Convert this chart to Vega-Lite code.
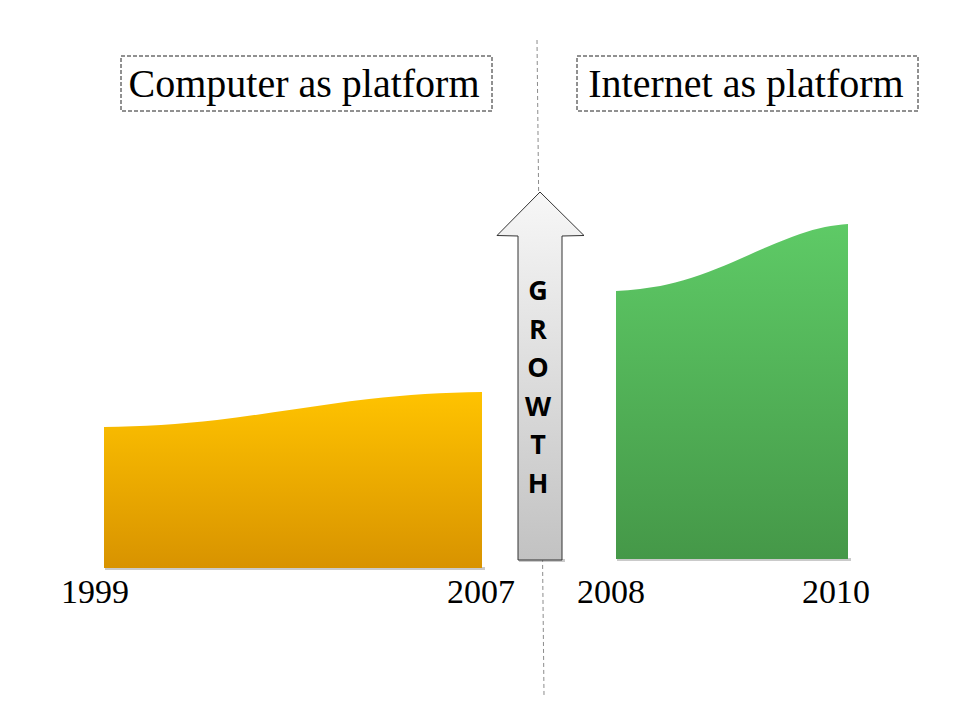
{
  "$schema": "https://vega.github.io/schema/vega-lite/v6.json",
  "width": 960,
  "height": 720,
  "autosize": {"type": "fit", "contains": "padding"},
  "padding": 0,
  "background": "white",
  "config": {"view": {"stroke": null}},
  "datasets": {
    "computer": [
      {"pos": 10.4, "level": 29.3},
      {"pos": 16.1, "level": 29.5},
      {"pos": 21.7, "level": 30.0},
      {"pos": 29.3, "level": 31.05},
      {"pos": 36.9, "level": 32.1},
      {"pos": 42.5, "level": 32.6},
      {"pos": 48.2, "level": 32.8}
    ],
    "internet": [
      {"pos": 61.6, "level": 42.9},
      {"pos": 64.0, "level": 43.1},
      {"pos": 66.7, "level": 43.55},
      {"pos": 70.0, "level": 44.5},
      {"pos": 73.3, "level": 45.8},
      {"pos": 76.7, "level": 47.3},
      {"pos": 80.0, "level": 48.6},
      {"pos": 82.5, "level": 49.3},
      {"pos": 84.8, "level": 49.6}
    ],
    "arrow": [
      {"level": 16.0, "left": 51.8, "right": 56.2},
      {"level": 48.4, "left": 51.8, "right": 56.2},
      {"level": 48.45, "left": 49.7, "right": 58.4},
      {"level": 52.8, "left": 54.0, "right": 54.0}
    ],
    "letters": [
      {"letter": "G", "pos": 53.8, "level": 42.8},
      {"letter": "R", "pos": 53.8, "level": 38.94},
      {"letter": "O", "pos": 53.8, "level": 35.08},
      {"letter": "W", "pos": 53.8, "level": 31.22},
      {"letter": "T", "pos": 53.8, "level": 27.36},
      {"letter": "H", "pos": 53.8, "level": 23.5}
    ],
    "years": [
      {"year": "1999", "pos": 9.5},
      {"year": "2007", "pos": 48.1},
      {"year": "2008", "pos": 61.1},
      {"year": "2010", "pos": 83.6}
    ],
    "boxes": [
      {"title": "Computer as platform", "x1": 12.1, "x2": 49.2, "mid": 30.4},
      {"title": "Internet as platform", "x1": 57.7, "x2": 91.8, "mid": 74.6}
    ],
    "shadows": [
      {"x1": 10.5, "x2": 48.5, "base": 15.15},
      {"x1": 61.7, "x2": 85.1, "base": 16.05},
      {"x1": 51.9, "x2": 56.5, "base": 15.95}
    ],
    "divider": [
      {"x1": 53.7, "y1": 68.0, "x2": 54.4, "y2": 2.5}
    ]
  },
  "layer": [
    {
      "data": {"name": "divider"},
      "mark": {"type": "rule", "color": "#8c8c8c", "strokeWidth": 1, "strokeDash": [4, 3]},
      "encoding": {
        "x": {"field": "x1", "type": "quantitative", "scale": {"domain": [0, 96], "nice": false, "zero": false}, "axis": null},
        "y": {"field": "y1", "type": "quantitative", "scale": {"domain": [0, 72], "nice": false, "zero": false}, "axis": null},
        "x2": {"field": "x2"},
        "y2": {"field": "y2"}
      }
    },
    {
      "data": {"name": "boxes"},
      "mark": {"type": "rect", "fill": "white", "stroke": "#222222", "strokeWidth": 1, "strokeDash": [4, 2]},
      "encoding": {
        "x": {"field": "x1", "type": "quantitative"},
        "x2": {"field": "x2"},
        "y": {"datum": 66.4, "type": "quantitative"},
        "y2": {"datum": 60.9}
      }
    },
    {
      "data": {"name": "boxes"},
      "mark": {"type": "text", "font": "Liberation Serif", "fontSize": 40, "color": "#000000", "align": "center", "baseline": "alphabetic"},
      "encoding": {
        "x": {"field": "mid", "type": "quantitative"},
        "y": {"datum": 62.3, "type": "quantitative"},
        "text": {"field": "title"}
      }
    },
    {
      "data": {"name": "shadows"},
      "mark": {"type": "rule", "color": "#8a8a8a", "opacity": 0.45, "strokeWidth": 3},
      "encoding": {
        "x": {"field": "x1", "type": "quantitative"},
        "x2": {"field": "x2"},
        "y": {"field": "base", "type": "quantitative"}
      }
    },
    {
      "data": {"name": "computer"},
      "mark": {
        "type": "area",
        "interpolate": "monotone",
        "fill": {
          "gradient": "linear", "x1": 0, "y1": 0, "x2": 0, "y2": 1,
          "stops": [{"offset": 0, "color": "#FFC300"}, {"offset": 1, "color": "#D89300"}]
        }
      },
      "encoding": {
        "x": {"field": "pos", "type": "quantitative"},
        "y": {"field": "level", "type": "quantitative"},
        "y2": {"datum": 15.2}
      }
    },
    {
      "data": {"name": "internet"},
      "mark": {
        "type": "area",
        "interpolate": "monotone",
        "fill": {
          "gradient": "linear", "x1": 0, "y1": 0, "x2": 0, "y2": 1,
          "stops": [{"offset": 0, "color": "#5ECA66"}, {"offset": 1, "color": "#459848"}]
        }
      },
      "encoding": {
        "x": {"field": "pos", "type": "quantitative"},
        "y": {"field": "level", "type": "quantitative"},
        "y2": {"datum": 16.1}
      }
    },
    {
      "data": {"name": "arrow"},
      "mark": {
        "type": "area",
        "orient": "horizontal",
        "stroke": "#333333",
        "strokeWidth": 1,
        "fill": {
          "gradient": "linear", "x1": 0, "y1": 0, "x2": 0, "y2": 1,
          "stops": [{"offset": 0, "color": "#F7F7F7"}, {"offset": 1, "color": "#C2C2C2"}]
        }
      },
      "encoding": {
        "y": {"field": "level", "type": "quantitative"},
        "x": {"field": "left", "type": "quantitative"},
        "x2": {"field": "right"}
      }
    },
    {
      "data": {"name": "letters"},
      "mark": {"type": "text", "font": "Open Sans", "fontWeight": "bold", "fontSize": 27, "color": "#000000", "align": "center", "baseline": "middle"},
      "encoding": {
        "x": {"field": "pos", "type": "quantitative"},
        "y": {"field": "level", "type": "quantitative"},
        "text": {"field": "letter"}
      }
    },
    {
      "data": {"name": "years"},
      "mark": {"type": "text", "font": "Liberation Serif", "fontSize": 34, "color": "#000000", "align": "center", "baseline": "alphabetic"},
      "encoding": {
        "x": {"field": "pos", "type": "quantitative"},
        "y": {"datum": 11.7, "type": "quantitative"},
        "text": {"field": "year"}
      }
    }
  ]
}
